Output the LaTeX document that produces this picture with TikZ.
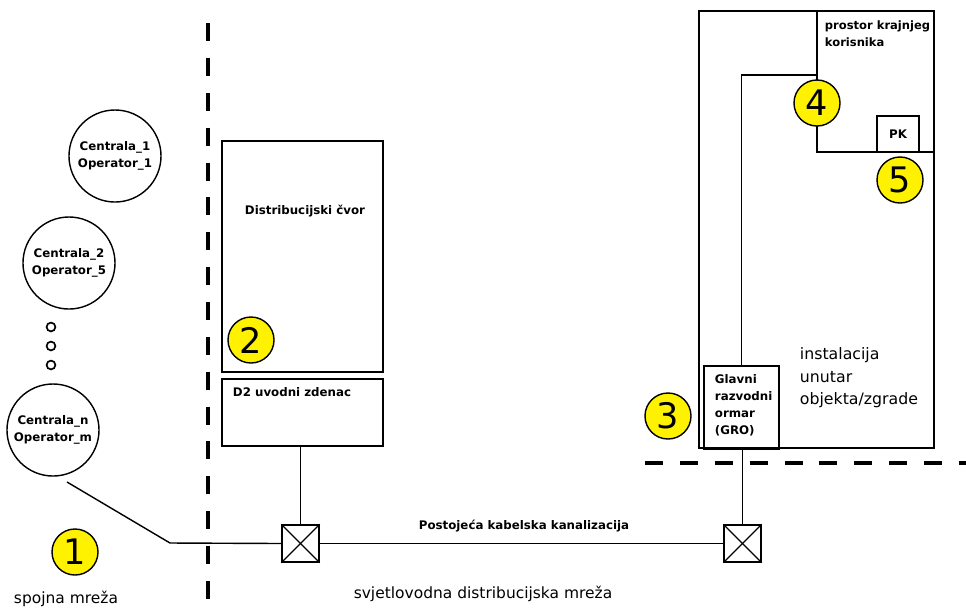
\documentclass[tikz,border=0pt]{standalone}
\usepackage{fontspec}
\setmainfont{DejaVu Sans}
\usetikzlibrary{positioning}

\tikzset{
    centrala/.style={draw, circle, line width=1pt, minimum size=2.3cm, inner sep=0pt, align=center, font=\bfseries\fontsize{8.4}{12}\selectfont},
    broj/.style={draw, circle, line width=1pt, fill=yellow, minimum size=1.15cm, inner sep=0pt, font=\fontsize{25}{25}\selectfont},
    kutija/.style={draw, rectangle, line width=1pt, inner sep=0pt},
    okno/.style={draw, rectangle, line width=1pt, minimum size=0.925cm, inner sep=0pt},
    tocka/.style={draw, circle, line width=1.2pt, minimum size=0.22cm, inner sep=0pt},
    granica/.style={line width=2.8pt, dash pattern=on 12.8pt off 12pt},
    sitno/.style={font=\bfseries\fontsize{8.4}{12}\selectfont},
    tekst/.style={font=\fontsize{11}{13}\selectfont},
}

\begin{document}
\begin{tikzpicture}[x=0.025cm, y=-0.025cm]
        \useasboundingbox (0,0) rectangle (966,608);

        % granice
        \draw[granica] (208,23) -- (208,608);
        \draw[granica] (645,463) -- (966,463);

        % centrale
        \node[centrala] (c1) at (115,156) {Centrala\_1\\Operator\_1};
        \node[centrala] (c2) at (69,263) {Centrala\_2\\Operator\_5};
        \node[tocka] (t1) at (51,327) {};
        \node[tocka] (t2) at (51,346) {};
        \node[tocka] (t3) at (51,365) {};
        \node[centrala] (cn) at (53,430) {Centrala\_n\\Operator\_m};

        % distribucijski cvor
        \node[kutija, minimum width=4.025cm, minimum height=5.775cm] (dc) at (302.5,256.5) {};
        \node[sitno] (dct) at (305,211) {Distribucijski čvor};
        \node[kutija, minimum width=4.025cm, minimum height=1.675cm] (d2) at (302.5,412.5) {};
        \node[sitno, anchor=west] (d2t) at (228,392) {D2 uvodni zdenac};

        % zgrada
        \node[kutija, minimum width=5.875cm, minimum height=10.925cm] (zg) at (816.5,229.5) {};
        \node[kutija, minimum width=2.925cm, minimum height=3.525cm] (pr) at (875.5,81.5) {};
        \node[sitno, anchor=north west, align=left, font=\bfseries\fontsize{8.2}{12}\selectfont] (prt) at (820,16) {prostor krajnjeg\\korisnika};
        \node[kutija, sitno, minimum width=1.05cm, minimum height=0.9cm] (pk) at (898,134) {PK};
        \node[kutija, minimum width=1.875cm, minimum height=2.075cm] (gro) at (741.5,407.5) {};
        \node[sitno, align=left, anchor=west] (grot) at (710,405) {Glavni\\razvodni\\ormar\\(GRO)};
        \node[font=\fontsize{11.2}{16}\selectfont, anchor=north west, align=left] (ins) at (795,343) {instalacija\\unutar\\objekta/zgrade};

        % kanalizacija
        \node[okno] (o1) at (300.5,543.5) {};
        \node[okno] (o2) at (742.5,543.5) {};
        \draw[line width=0.8pt] (o1.north west) -- (o1.south east);
        \draw[line width=0.8pt] (o1.north east) -- (o1.south west);
        \draw[line width=0.8pt] (o2.north west) -- (o2.south east);
        \draw[line width=0.8pt] (o2.north east) -- (o2.south west);

        \coordinate (s1) at (67,482);
        \coordinate (k1) at (170,543);
        \coordinate (k4) at (817,75);
        \draw[line width=1pt] (s1) -- (k1) -- (o1.west);
        \draw[line width=1pt] (o1.east) -- (o2.west);
        \draw[line width=1pt] (o1.north) -- (o1.north |- d2.south);
        \draw[line width=1pt] (o2.north) -- (o2.north |- gro.south);
        \draw[line width=1pt] (gro.north) |- (k4);

        \node[sitno] (kan) at (524,526) {Postojeća kabelska kanalizacija};
        \node[tekst] (sm) at (66,599) {spojna mreža};
        \node[tekst] (sdm) at (483,594) {svjetlovodna distribucijska mreža};

        % brojevi
        \node[broj] (n1) at (75,552) {1};
        \node[broj] (n2) at (251,340) {2};
        \node[broj] (n3) at (668,416) {3};
        \node[broj] (n4) at (817,103) {4};
        \node[broj] (n5) at (900,180) {5};
    \end{tikzpicture}
\end{document}
